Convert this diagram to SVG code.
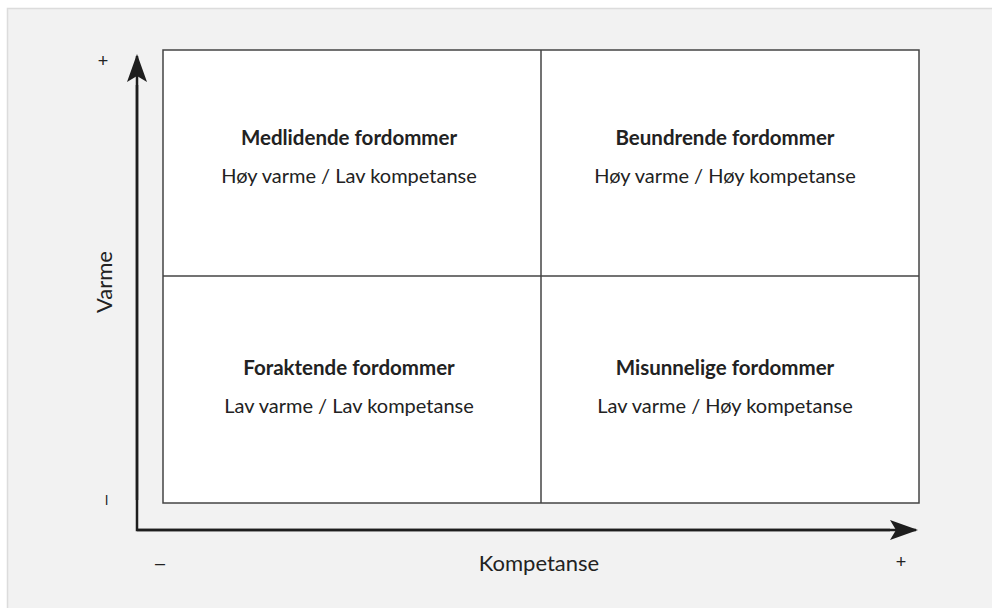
<svg xmlns="http://www.w3.org/2000/svg" width="992" height="608" viewBox="0 0 992 608">
<style>
.t{font-family:Lato,"Noto Sans",sans-serif;font-size:20px;fill:#222;text-anchor:middle}
.b{font-weight:bold;font-size:20.5px}
.a{font-size:22px}
.s{font-family:"Liberation Sans",sans-serif;font-size:18px;fill:#222;text-anchor:middle}
.ax{stroke:#1e1e1e;stroke-width:2.5;fill:none}
.q{fill:#fff;stroke:#444;stroke-width:1.5}
.d{stroke:#444;stroke-width:1.5}
</style>
<defs>
<marker id="ah" viewBox="0 0 28 20" refX="26" refY="10" markerWidth="28" markerHeight="20" markerUnits="userSpaceOnUse" orient="auto">
<path d="M0,0 L28,10 L0,20 L6,10 Z" fill="#1e1e1e"/>
</marker>
</defs>
<rect x="7.5" y="8.5" width="990" height="605" fill="#f2f2f2" stroke="#dcdcdc" stroke-width="1.5"/>
<g id="grid">
<rect class="q" x="163" y="50" width="756" height="453"/>
<line class="d" x1="541" y1="50" x2="541" y2="503"/>
<line class="d" x1="163" y1="276" x2="919" y2="276"/>
</g>
<g id="connectors">
<polyline class="ax" points="137,85 137,530 890,530"/>
<line class="ax" x1="137" y1="500" x2="137" y2="56" marker-end="url(#ah)"/>
<line class="ax" x1="137" y1="530" x2="916" y2="530" marker-end="url(#ah)"/>
</g>
<g id="q1"><text class="t b" x="349" y="145">Medlidende fordommer</text><text class="t" x="349" y="183">Høy varme / Lav kompetanse</text></g>
<g id="q2"><text class="t b" x="725" y="145">Beundrende fordommer</text><text class="t" x="725" y="183">Høy varme / Høy kompetanse</text></g>
<g id="q3"><text class="t b" x="349" y="375">Foraktende fordommer</text><text class="t" x="349" y="413">Lav varme / Lav kompetanse</text></g>
<g id="q4"><text class="t b" x="725" y="375">Misunnelige fordommer</text><text class="t" x="725" y="413">Lav varme / Høy kompetanse</text></g>
<g id="labels">
<text class="s" x="103" y="67">+</text>
<text class="s" transform="translate(111,500) rotate(-90)">–</text>
<text class="t a" transform="translate(112,282) rotate(-90)">Varme</text>
<text class="s" x="160" y="569">–</text>
<text class="s" x="901" y="568">+</text>
<text class="t a" x="539" y="571">Kompetanse</text>
</g>
</svg>
